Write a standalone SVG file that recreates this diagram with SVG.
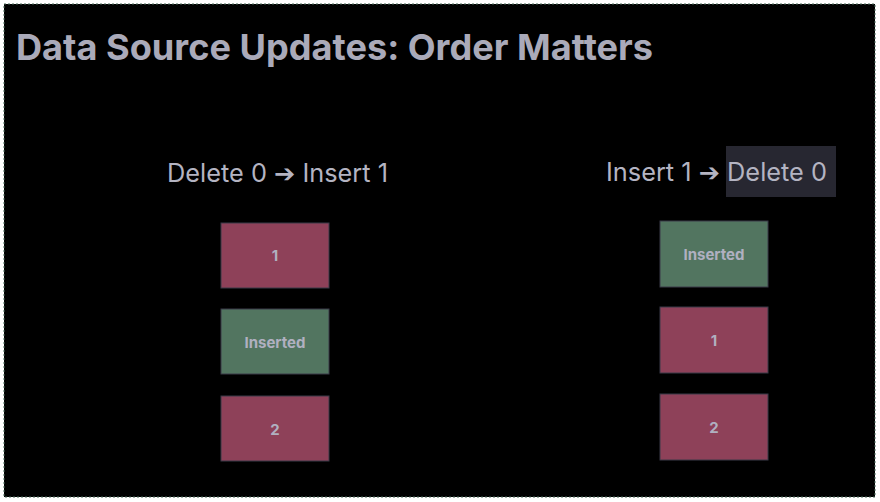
<svg xmlns="http://www.w3.org/2000/svg" width="880" height="502" viewBox="0 0 880 502">
<style>
.title{font-family:Inter,"Liberation Sans",sans-serif;font-weight:700;font-size:36px;fill:#aaaab9}
.sub{font-family:Inter,"Liberation Sans","DejaVu Sans",sans-serif;font-size:25px;fill:#b4b4c2}
.arr{font-family:"DejaVu Sans",sans-serif;font-weight:700}
.box{stroke:#3a3a48;stroke-width:1}
.red{fill:#8e4159}
.green{fill:#527560}
.lbl{font-family:Inter,"Liberation Sans",sans-serif;font-weight:700;font-size:15px;fill:#b0b0c0;text-anchor:middle;dominant-baseline:central}
</style>
<rect x="0" y="0" width="880" height="502" fill="#ffffff"/>
<rect x="4" y="4" width="871" height="493" fill="#000000" stroke="#4a6a5a" stroke-width="1" stroke-dasharray="2 2"/>
<text class="title" x="16" y="60" textLength="637" lengthAdjust="spacingAndGlyphs">Data Source Updates: Order Matters</text>
<rect x="726" y="146" width="110" height="51" fill="#272731"/>
<text class="sub" x="167" y="182" textLength="221" lengthAdjust="spacingAndGlyphs">Delete 0 <tspan class="arr">➔</tspan> Insert 1</text>
<text class="sub" x="606" y="181" textLength="221" lengthAdjust="spacingAndGlyphs">Insert 1 <tspan class="arr">➔</tspan> Delete 0</text>
<g id="left-1"><rect class="box red" x="221" y="223" width="108" height="65"/><text class="lbl" x="275" y="255">1</text></g>
<g id="left-inserted"><rect class="box green" x="221" y="309" width="108" height="65"/><text class="lbl" x="275" y="342">Inserted</text></g>
<g id="left-2"><rect class="box red" x="221" y="396" width="108" height="65"/><text class="lbl" x="275" y="429">2</text></g>
<g id="right-inserted"><rect class="box green" x="660" y="221" width="108" height="66"/><text class="lbl" x="714" y="254">Inserted</text></g>
<g id="right-1"><rect class="box red" x="660" y="307" width="108" height="66"/><text class="lbl" x="714" y="340">1</text></g>
<g id="right-2"><rect class="box red" x="660" y="394" width="108" height="66"/><text class="lbl" x="714" y="427">2</text></g>
<g id="connectors"></g>
</svg>
